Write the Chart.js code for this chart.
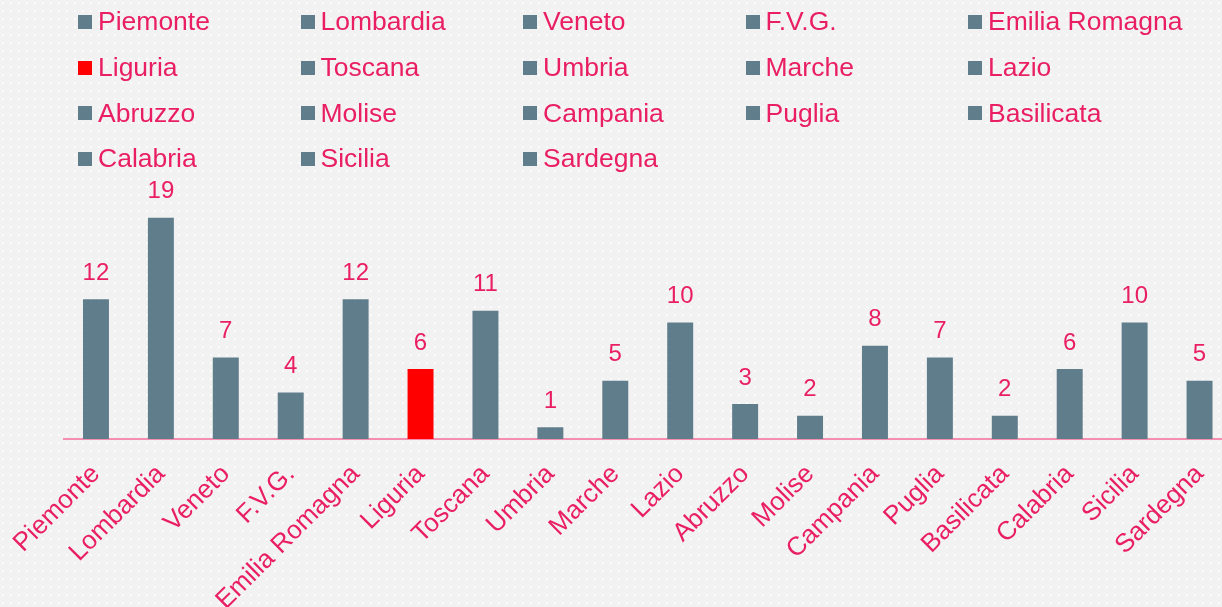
<!DOCTYPE html>
<html>
<head>
<meta charset="utf-8">
<script src="https://cdn.jsdelivr.net/npm/chart.js@4.4.0/dist/chart.umd.min.js"></script>
<style>
  html, body { margin: 0; padding: 0; overflow: hidden; width: 1222px; height: 607px; background: #f2f2f2; }
  #wrap { position: relative; width: 1222px; height: 607px; overflow: hidden; }
  #chart { position: absolute; left: 0; top: 0; }
  #legend {
    position: absolute; left: 78px; top: -1px;
    display: grid; grid-template-columns: repeat(5, 222.5px); grid-auto-rows: 45.7px;
    font: 26.5px "Liberation Sans", Arial, sans-serif; color: #E91E63;
  }
  .item { display: flex; align-items: center; white-space: nowrap; }
  .box { width: 14px; height: 14px; margin-right: 6px; flex: none; }
</style>
</head>
<body>
<div id="wrap">
  <canvas id="chart" width="1232" height="607"></canvas>
  <div id="legend"></div>
</div>
<script>
const regions = ['Piemonte', 'Lombardia', 'Veneto', 'F.V.G.', 'Emilia Romagna', 'Liguria', 'Toscana', 'Umbria', 'Marche',
  'Lazio', 'Abruzzo', 'Molise', 'Campania', 'Puglia', 'Basilicata', 'Calabria', 'Sicilia', 'Sardegna'];
const counts = [12, 19, 7, 4, 12, 6, 11, 1, 5, 10, 3, 2, 8, 7, 2, 6, 10, 5];
const highlight = 'Liguria';

const PINK = '#E91E63';
const GREY = '#607D8B';
const RED = '#FF0000';

const barColors = regions.map(r => r === highlight ? RED : GREY);

// legend as html grid
const legend = document.getElementById('legend');
regions.forEach((r, i) => {
  const item = document.createElement('div');
  item.className = 'item';
  const box = document.createElement('span');
  box.className = 'box';
  box.style.background = barColors[i];
  const txt = document.createElement('span');
  txt.textContent = r;
  item.appendChild(box);
  item.appendChild(txt);
  legend.appendChild(item);
});

const dottedBg = {
  id: 'dottedBg',
  beforeDraw(chart) {
    const ctx = chart.ctx;
    ctx.save();
    ctx.fillStyle = '#f2f2f2';
    ctx.fillRect(0, 0, chart.width, chart.height);
    ctx.fillStyle = '#fbfbfb';
    for (let y = 2; y < chart.height; y += 8) {
      for (let x = 2; x < chart.width; x += 8) {
        ctx.fillRect(x, y, 2, 2);
      }
    }
    ctx.restore();
  }
};

const valueLabels = {
  id: 'valueLabels',
  afterDatasetsDraw(chart) {
    const ctx = chart.ctx;
    const meta = chart.getDatasetMeta(0);
    ctx.save();
    ctx.font = '24px "Liberation Sans", Arial, sans-serif';
    ctx.fillStyle = PINK;
    ctx.textAlign = 'center';
    ctx.textBaseline = 'middle';
    meta.data.forEach((bar, i) => {
      ctx.fillText(String(counts[i]), bar.x, bar.y - 26);
    });
    ctx.restore();
  }
};

new Chart(document.getElementById('chart').getContext('2d'), {
  type: 'bar',
  data: {
    labels: regions,
    datasets: [{
      data: counts,
      backgroundColor: barColors,
      borderWidth: 0,
      categoryPercentage: 0.8,
      barPercentage: 0.5
    }]
  },
  options: {
    responsive: false,
    animation: false,
    devicePixelRatio: 1,
    layout: { padding: { top: 206, left: 63.5, right: 0, bottom: 0 } },
    plugins: { legend: { display: false }, tooltip: { enabled: false } },
    scales: {
      y: { display: false, min: 0, max: 20 },
      x: {
        grid: { display: false, drawTicks: false },
        border: { color: '#F48FB1', width: 2 },
        ticks: {
          autoSkip: false,
          maxRotation: 45,
          minRotation: 45,
          padding: 20,
          color: PINK,
          font: { family: '"Liberation Sans", Arial, sans-serif', size: 26 }
        },
        afterFit(scale) {
          scale.height = 168;
          scale.paddingLeft = 0;
          scale.paddingRight = 0;
        }
      }
    }
  },
  plugins: [dottedBg, valueLabels]
});
</script>
</body>
</html>
